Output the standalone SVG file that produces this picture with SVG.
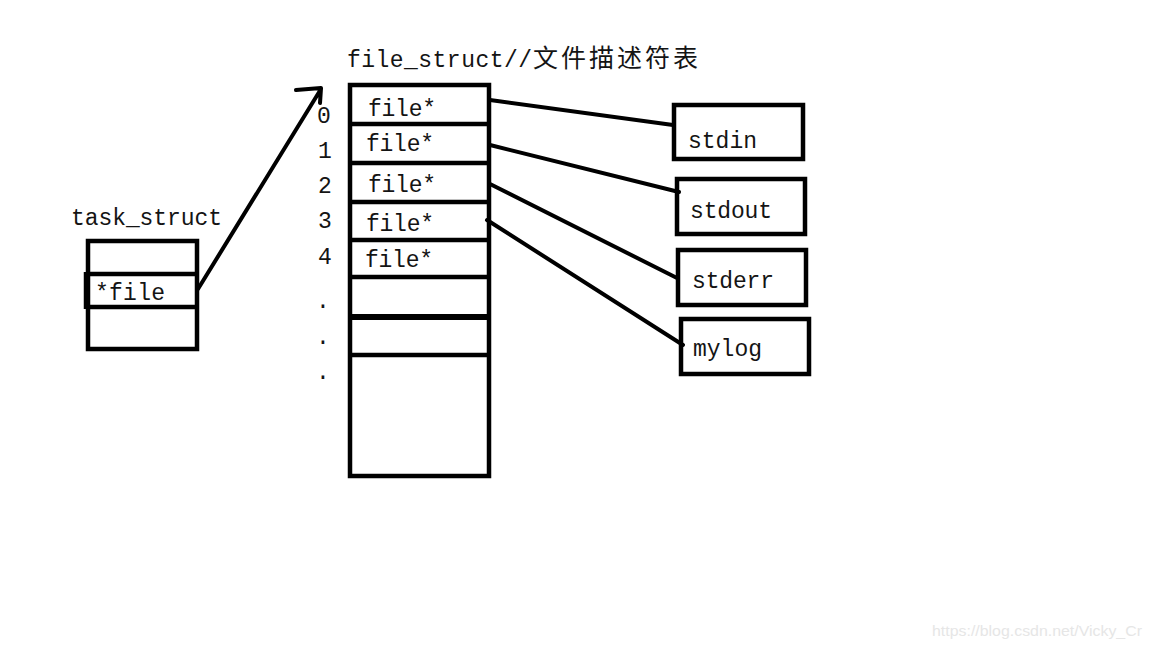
<svg xmlns="http://www.w3.org/2000/svg" width="1152" height="648" viewBox="0 0 1152 648">
<style>
.t{font-family:"Liberation Mono","Noto Sans CJK SC",monospace;font-size:23px;fill:#141414}
.box{fill:none;stroke:#000;stroke-width:4.5}
.ln{fill:none;stroke:#000;stroke-width:4;stroke-linecap:round;stroke-linejoin:round}
.wm{font-family:"Liberation Sans",Arial,sans-serif;font-size:15px;fill:#e6e6e6}
</style>
<rect width="1152" height="648" fill="#fff"/>
<g id="task_struct">
<text class="t" x="71" y="225" textLength="151" lengthAdjust="spacing">task_struct</text>
<rect class="box" x="88" y="241" width="109" height="108"/>
<line class="box" x1="86" y1="274" x2="197" y2="274"/>
<line class="box" x1="86" y1="307" x2="197" y2="307"/>
<line class="box" x1="86" y1="272" x2="86" y2="309"/>
<text class="t" x="95" y="300" textLength="70" lengthAdjust="spacing">*file</text>
</g>
<g id="file_struct">
<text class="t" x="347" y="67"><tspan textLength="185" lengthAdjust="spacing">file_struct//</tspan><tspan x="533" font-size="25" textLength="165" lengthAdjust="spacing">文件描述符表</tspan></text>
<rect class="box" x="350" y="85" width="139" height="391"/>
<line class="box" x1="350" y1="124" x2="489" y2="124"/>
<line class="box" x1="350" y1="163" x2="489" y2="163"/>
<line class="box" x1="350" y1="202" x2="489" y2="202"/>
<line class="box" x1="350" y1="240" x2="489" y2="240"/>
<line class="box" x1="350" y1="277" x2="489" y2="277"/>
<line class="box" x1="350" y1="317" x2="489" y2="317" style="stroke-width:6"/>
<line class="box" x1="350" y1="355" x2="489" y2="355"/>
<text class="t" x="368" y="116" textLength="68" lengthAdjust="spacing">file*</text>
<text class="t" x="366" y="151" textLength="68" lengthAdjust="spacing">file*</text>
<text class="t" x="368" y="192" textLength="68" lengthAdjust="spacing">file*</text>
<text class="t" x="366" y="231" textLength="68" lengthAdjust="spacing">file*</text>
<text class="t" x="365" y="267" textLength="68" lengthAdjust="spacing">file*</text>
<text class="t" x="317" y="123">0</text>
<text class="t" x="318" y="158">1</text>
<text class="t" x="318" y="193">2</text>
<text class="t" x="318" y="228">3</text>
<text class="t" x="318" y="264">4</text>
<text class="t" x="316" y="308">.</text>
<text class="t" x="316" y="344">.</text>
<text class="t" x="316" y="379">.</text>
</g>
<g id="stdin">
<rect class="box" x="674" y="105" width="129" height="54"/>
<text class="t" x="688" y="148" textLength="69" lengthAdjust="spacing">stdin</text>
</g>
<g id="stdout">
<rect class="box" x="677" y="179" width="128" height="55"/>
<text class="t" x="690" y="218" textLength="82" lengthAdjust="spacing">stdout</text>
</g>
<g id="stderr">
<rect class="box" x="678" y="250" width="128" height="55"/>
<text class="t" x="692" y="288" textLength="82" lengthAdjust="spacing">stderr</text>
</g>
<g id="mylog">
<rect class="box" x="681" y="319" width="128" height="55"/>
<text class="t" x="693" y="356" textLength="69" lengthAdjust="spacing">mylog</text>
</g>
<g id="connectors">
<path class="ln" d="M198,289 L321,89 M296,90 L321,88 L320,103"/>
<line class="ln" x1="490" y1="100" x2="673" y2="125"/>
<line class="ln" x1="490" y1="145" x2="679" y2="192"/>
<line class="ln" x1="490" y1="184" x2="677" y2="278"/>
<line class="ln" x1="487" y1="220" x2="683" y2="345"/>
</g>
<text class="wm" x="932" y="636" textLength="210" lengthAdjust="spacingAndGlyphs">https://blog.csdn.net/Vicky_Cr</text>
</svg>
